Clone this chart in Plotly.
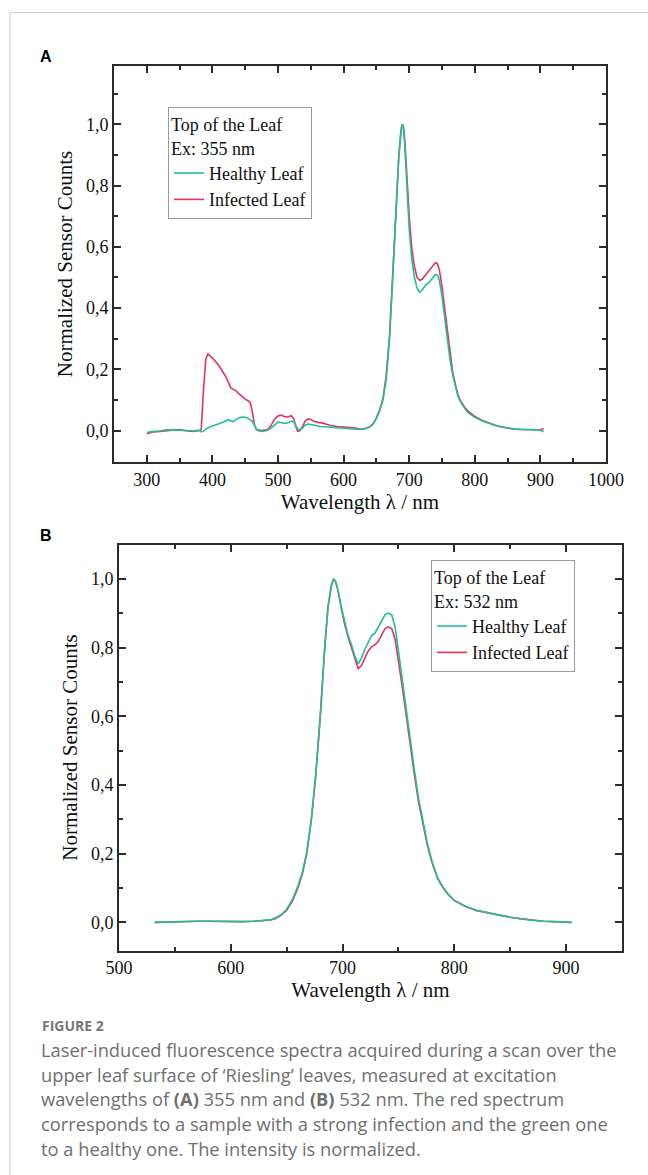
import plotly.graph_objects as go

# ---------------- Data: panel A (Ex 355 nm) ----------------
wl_a = [300, 310, 320, 330, 340, 350, 360, 370, 380, 383, 386, 390, 393, 396, 400, 405, 410, 415,
        420, 425, 428, 432, 436, 440, 445, 450, 455, 458, 461, 464, 467, 470, 475, 480, 485, 490,
        495, 500, 505, 510, 515, 520, 524, 527, 530, 533, 537, 541, 545, 548, 552, 556, 560, 565,
        570, 575, 580, 590, 600, 610, 620, 630, 640, 645, 650, 655, 660, 665, 670, 675, 680, 684,
        687, 689, 691, 693, 696, 700, 704, 708, 712, 716, 720, 725, 730, 735, 740, 743, 746, 750,
        754, 758, 762, 766, 770, 774, 778, 782, 786, 790, 795, 800, 810, 820, 830, 840, 850, 860,
        870, 880, 890, 900, 905]
healthy_a = [-0.006, -0.002, -0.001, 0.003, 0.002, 0.001, 0.002, 0.000, 0.001, -0.004, -0.002, 0.006,
             0.009, 0.012, 0.015, 0.018, 0.022, 0.027, 0.032, 0.036, 0.032, 0.030, 0.036, 0.042, 0.045,
             0.044, 0.040, 0.036, 0.030, 0.018, 0.005, 0.000, -0.002, -0.001, 0.002, 0.010, 0.020,
             0.028, 0.027, 0.024, 0.026, 0.031, 0.030, 0.018, 0.006, 0.003, 0.008, 0.018, 0.022, 0.021,
             0.019, 0.017, 0.016, 0.014, 0.013, 0.012, 0.011, 0.009, 0.008, 0.006, 0.005, 0.005, 0.012,
             0.022, 0.040, 0.065, 0.100, 0.170, 0.300, 0.500, 0.740, 0.890, 0.970, 1.000, 0.990, 0.940,
             0.820, 0.660, 0.560, 0.500, 0.465, 0.452, 0.460, 0.475, 0.483, 0.495, 0.510, 0.508, 0.490,
             0.440, 0.370, 0.295, 0.235, 0.185, 0.145, 0.115, 0.095, 0.080, 0.068, 0.058, 0.050, 0.044,
             0.033, 0.025, 0.018, 0.013, 0.009, 0.006, 0.005, 0.004, 0.003, 0.002, -0.003]
infected_a = [-0.010, -0.004, -0.002, 0.000, 0.001, 0.004, 0.000, -0.002, 0.001, 0.004, 0.120, 0.235,
              0.250, 0.245, 0.238, 0.225, 0.212, 0.195, 0.178, 0.155, 0.140, 0.135, 0.130, 0.122, 0.112,
              0.103, 0.097, 0.090, 0.060, 0.020, 0.004, 0.002, 0.001, 0.002, 0.005, 0.020, 0.038,
              0.048, 0.051, 0.046, 0.045, 0.049, 0.040, 0.015, -0.002, 0.000, 0.012, 0.030, 0.038, 0.038,
              0.033, 0.030, 0.028, 0.027, 0.024, 0.020, 0.017, 0.014, 0.011, 0.010, 0.008, 0.005, 0.013,
              0.023, 0.042, 0.068, 0.105, 0.180, 0.310, 0.510, 0.750, 0.890, 0.965, 1.000, 0.995, 0.955,
              0.850, 0.700, 0.595, 0.535, 0.500, 0.490, 0.495, 0.510, 0.522, 0.535, 0.548, 0.545, 0.525,
              0.470, 0.400, 0.325, 0.255, 0.195, 0.155, 0.120, 0.098, 0.085, 0.072, 0.064, 0.055, 0.047,
              0.035, 0.026, 0.019, 0.012, 0.008, 0.005, 0.004, 0.003, 0.002, 0.003, 0.007]

# ---------------- Data: panel B (Ex 532 nm) ----------------
wl_b = [532, 540, 550, 560, 570, 580, 590, 600, 610, 620, 630, 636, 640, 645, 650, 655, 660, 664, 668,
        672, 676, 680, 684, 687, 690, 692, 694, 696, 699, 702, 705, 708, 711, 714, 717, 720, 723, 726,
        729, 732, 735, 738, 741, 744, 747, 750, 753, 756, 760, 764, 768, 772, 776, 780, 785, 790, 795,
        800, 805, 810, 820, 830, 840, 850, 860, 870, 880, 890, 900, 905]
healthy_b = [0.000, 0.001, 0.002, 0.003, 0.003, 0.003, 0.002, 0.002, 0.002, 0.003, 0.005, 0.008, 0.013,
             0.022, 0.038, 0.065, 0.105, 0.145, 0.205, 0.300, 0.430, 0.600, 0.800, 0.920, 0.980, 1.000,
             0.990, 0.965, 0.915, 0.870, 0.835, 0.808, 0.775, 0.752, 0.770, 0.795, 0.815, 0.835, 0.842,
             0.858, 0.878, 0.895, 0.900, 0.895, 0.860, 0.790, 0.715, 0.645, 0.540, 0.450, 0.360, 0.290,
             0.228, 0.178, 0.130, 0.102, 0.080, 0.064, 0.055, 0.047, 0.035, 0.027, 0.021, 0.015, 0.010,
             0.006, 0.003, 0.002, 0.001, 0.000]
infected_b = [0.000, 0.001, 0.002, 0.003, 0.003, 0.003, 0.002, 0.002, 0.002, 0.003, 0.005, 0.007, 0.011,
              0.020, 0.035, 0.061, 0.100, 0.140, 0.200, 0.295, 0.425, 0.595, 0.795, 0.918, 0.980, 1.000,
              0.990, 0.965, 0.913, 0.866, 0.830, 0.800, 0.765, 0.738, 0.748, 0.770, 0.790, 0.802, 0.808,
              0.818, 0.838, 0.855, 0.860, 0.855, 0.825, 0.765, 0.695, 0.625, 0.525, 0.435, 0.350, 0.282,
              0.222, 0.174, 0.128, 0.100, 0.079, 0.063, 0.054, 0.046, 0.034, 0.027, 0.020, 0.015, 0.010,
              0.006, 0.003, 0.002, 0.001, 0.000]

series_names = ["Healthy Leaf", "Infected Leaf"]
legend_titles = ["Top of the Leaf<br>Ex: 355 nm", "Top of the Leaf<br>Ex: 532 nm"]
caption_head = "FIGURE 2"
caption_lines = [
    "Laser-induced fluorescence spectra acquired during a scan over the",
    "upper leaf surface of \u2018Riesling\u2019 leaves, measured at excitation",
    "wavelengths of <b>(A)</b> 355 nm and <b>(B)</b> 532 nm. The red spectrum",
    "corresponds to a sample with a strong infection and the green one",
    "to a healthy one. The intensity is normalized.",
]

GREEN = "#1fbf9c"
RED = "#e6335c"
W, H = 648, 1175
SERIF = "Liberation Serif, Times New Roman, serif"
SANS = "Open Sans, Noto Sans, sans-serif"

fig = go.Figure()
# panel A
fig.add_trace(go.Scatter(x=wl_a, y=infected_a, name=series_names[1], mode="lines",
                         line=dict(color=RED, width=1.6), xaxis="x", yaxis="y",
                         legend="legend", legendrank=2))
fig.add_trace(go.Scatter(x=wl_a, y=healthy_a, name=series_names[0], mode="lines",
                         line=dict(color=GREEN, width=1.6), xaxis="x", yaxis="y",
                         legend="legend", legendrank=1))
# panel B
fig.add_trace(go.Scatter(x=wl_b, y=infected_b, name=series_names[1], mode="lines",
                         line=dict(color=RED, width=1.6), xaxis="x2", yaxis="y2",
                         legend="legend2", legendrank=2))
fig.add_trace(go.Scatter(x=wl_b, y=healthy_b, name=series_names[0], mode="lines",
                         line=dict(color=GREEN, width=1.6), xaxis="x2", yaxis="y2",
                         legend="legend2", legendrank=1))

AX = "#2b2b2b"
tickfont = dict(family=SERIF, size=18, color="#111")
titlefont = dict(family=SERIF, size=21, color="#111")


def xax(domain, rng, anchor):
    return dict(domain=domain, range=rng, anchor=anchor, dtick=100, tick0=0, automargin=False,
                ticks="inside", ticklen=7, tickwidth=1.5, tickcolor=AX,
                showline=True, linecolor=AX, linewidth=2, mirror="allticks",
                showgrid=False, zeroline=False, tickfont=tickfont,
                minor=dict(dtick=50, ticks="inside", ticklen=4, tickwidth=1.5, tickcolor=AX),
                title=dict(text="Wavelength \u03bb / nm", font=titlefont, standoff=2))


def yax(domain, rng, anchor):
    return dict(domain=domain, range=rng, anchor=anchor, dtick=0.2, tick0=0, tickformat=".1f",
                automargin=False,
                ticks="inside", ticklen=7, tickwidth=1.5, tickcolor=AX,
                showline=True, linecolor=AX, linewidth=2, mirror="allticks",
                showgrid=False, zeroline=False, tickfont=tickfont,
                minor=dict(dtick=0.1, ticks="inside", ticklen=4, tickwidth=1.5, tickcolor=AX),
                title=dict(text="Normalized Sensor Counts", font=titlefont, standoff=8))


legend_font = dict(family=SERIF, size=18, color="#111")
legend_common = dict(xanchor="left", yanchor="top", bgcolor="white", bordercolor="#9a9a9a",
                     borderwidth=1, font=legend_font, tracegroupgap=0)

fig.update_layout(
    width=W, height=H, autosize=False, margin=dict(l=0, r=0, t=0, b=0, autoexpand=False),
    paper_bgcolor="white", plot_bgcolor="white",
    separators=",.",
    xaxis=xax([114 / W, 606 / W], [250, 1000], "y"),
    yaxis=yax([1 - 462 / H, 1 - 66 / H], [-0.102, 1.19], "x"),
    xaxis2=xax([119 / W, 622 / W], [500, 950], "y2"),
    yaxis2=yax([1 - 950.5 / H, 1 - 544.5 / H], [-0.082, 1.10], "x2"),
    legend=dict(x=168 / W, y=1 - 107 / H,
                title=dict(text=legend_titles[0], font=legend_font), **legend_common),
    legend2=dict(x=431 / W, y=1 - 560 / H,
                 title=dict(text=legend_titles[1], font=legend_font), **legend_common),
    showlegend=True,
)

# card border (left and top edges visible)
fig.add_shape(type="rect", xref="paper", yref="paper", x0=10 / W, x1=1.05, y0=-0.05,
              y1=1 - 12.5 / H, line=dict(color="#cccccc", width=1), layer="below")

# panel letters
for letter, yc in (("A", 56), ("B", 535)):
    fig.add_annotation(text=f"<b>{letter}</b>", xref="paper", yref="paper", x=38 / W,
                       y=1 - yc / H, xanchor="left", yanchor="middle", showarrow=False,
                       font=dict(family="Liberation Sans, Arial, sans-serif", size=16, color="#000"))

# caption
fig.add_annotation(text=f"<b>{caption_head}</b>", xref="paper", yref="paper", x=40 / W,
                   y=1 - 1025 / H, xanchor="left", yanchor="middle", showarrow=False,
                   font=dict(family=SANS, size=14, color="#777777"))
for i, line in enumerate(caption_lines):
    fig.add_annotation(text=line, xref="paper", yref="paper", x=39 / W,
                       y=1 - (1049.5 + 24.7 * i) / H, xanchor="left", yanchor="middle",
                       showarrow=False, font=dict(family=SANS, size=18.3, color="#6f6f6f"))

fig.write_html(
    "out.html",
    config={"responsive": False, "displayModeBar": False},
    post_script="document.body.style.margin='0';document.body.style.overflow='hidden';",
)
